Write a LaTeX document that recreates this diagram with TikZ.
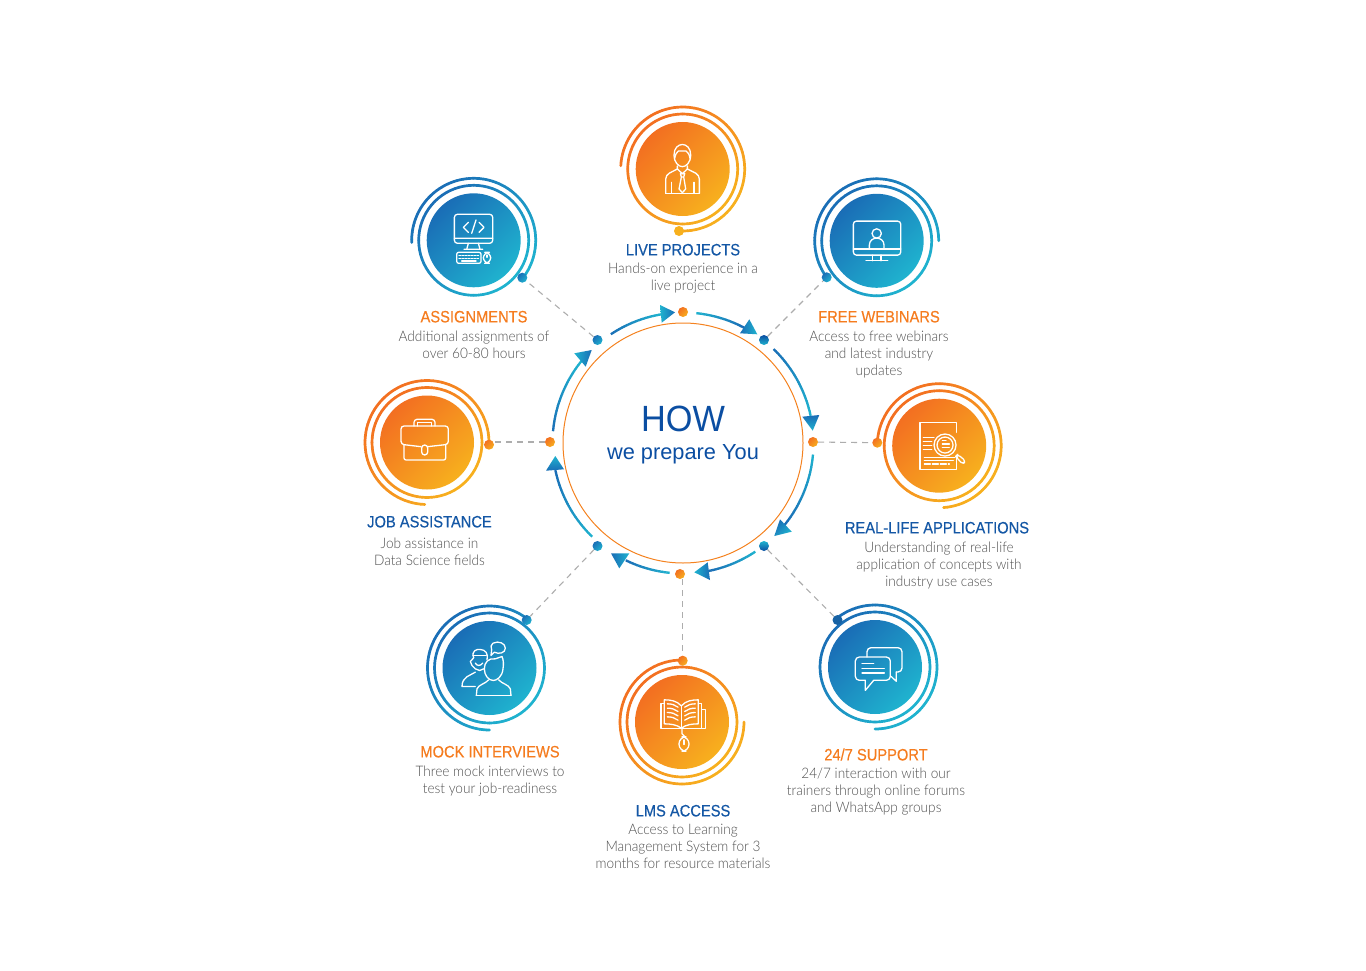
\documentclass[tikz,border=0pt]{standalone}
\usepackage{fontspec}
\setmainfont{Liberation Sans}
\newfontfamily\headfont{Liberation Sans}[FakeStretch=0.89,FakeBold=0.4]
\newfontfamily\hubfont{Liberation Sans}[FakeStretch=0.94]
\newfontfamily\bodyfont{Lato}[UprightFont=* Light,FakeStretch=0.94]
\usetikzlibrary{positioning}

\definecolor{orangeA}{HTML}{F36F21}
\definecolor{orangeB}{HTML}{F7B01E}
\definecolor{blueA}{HTML}{1A6DB6}
\definecolor{blueB}{HTML}{1FB3CF}
\definecolor{headblue}{HTML}{1457A5}
\definecolor{headorange}{HTML}{F57C1F}
\definecolor{bodygray}{HTML}{505050}
\definecolor{hubblue}{HTML}{0B4EA2}

\tikzset{
  orangedisk/.style={circle,minimum size=94pt,inner sep=0pt,top color=orangeA,bottom color=orangeB,shading angle=45},
  bluedisk/.style={circle,minimum size=94pt,inner sep=0pt,top color=blueA,bottom color=blueB,shading angle=45},
  orangedot/.style={circle,minimum size=10pt,inner sep=0pt,top color=orangeA,bottom color=orangeB,shading angle=45},
  bluedot/.style={circle,minimum size=10pt,inner sep=0pt,top color=blueA,bottom color=blueB,shading angle=45},
  hubdot/.style={circle,minimum size=10pt,inner sep=0pt,left color=blueB,right color=hubblue},
  headtext/.style={font=\headfont\fontsize{16.5}{18}\selectfont,inner sep=0pt,text height=12pt,text depth=0pt},
  bodytext/.style={font=\bodyfont\fontsize{14.5}{17}\selectfont,text=bodygray,align=center,inner sep=0pt},
  ringline/.style={line width=2.7pt,line cap=round},
  flowline/.style={line width=2.3pt},
  dashline/.style={draw=black!32,line width=1.1pt,dash pattern=on 6pt off 5pt},
  iconline/.style={draw=white,line width=1.3pt,line cap=round,line join=round},
}

% ring part whose colour follows the diagonal of the picture
\newcommand{\ringarc}[6]{%
  \foreach \k in {1,...,72}{
    \pgfmathsetmacro{\angA}{#3+(#4-#3)/72*(\k-1)}
    \pgfmathsetmacro{\angB}{#3+(#4-#3)/72*\k}
    \pgfmathtruncatemacro{\mixval}{50+50*cos((\angA+\angB)/2-135)}
    \draw[ringline,draw={#5!\mixval!#6}] (#1.center) ++(\angA:#2) arc[start angle=\angA,end angle=\angB,radius=#2];
  }}
% arrow around the hub, colour runs from start to end
\newcommand{\flowarc}[4]{%
  \foreach \k in {1,...,30}{
    \pgfmathsetmacro{\angA}{#1+(#2-#1)/30*(\k-1.2)}
    \pgfmathsetmacro{\angB}{#1+(#2-#1)/30*\k}
    \pgfmathtruncatemacro{\mixval}{100-100*\k/30}
    \draw[flowline,draw={#3!\mixval!#4}] (hub.center) ++(\angA:130.5) arc[start angle=\angA,end angle=\angB,radius=130.5];
  }}

\begin{document}
\begin{tikzpicture}[x=1pt,y=1pt]
  \useasboundingbox (0,0) rectangle (1366,-971);

  % hub
  \node[circle,draw=orangeA!70!orangeB,line width=1pt,minimum size=240pt,inner sep=0pt] (hub) at (683,-443) {};
  \node[text=hubblue,anchor=base,inner sep=0pt,font=\hubfont\fontsize{36.5}{40}\selectfont] (hubTitle) at (683,-431) {HOW};
  \node[text=hubblue,anchor=base,inner sep=0pt,font=\fontsize{21.8}{26}\selectfont] (hubText) at (683,-459.3) {we prepare You};

  % disks
  \node[orangedisk] (live) at (682.7,-169) {};
  \node[bluedisk] (assign) at (473.7,-240.3) {};
  \node[bluedisk] (webinar) at (876.7,-240.8) {};
  \node[orangedisk] (reallife) at (939.2,-445.7) {};
  \node[bluedisk] (support) at (875,-667) {};
  \node[orangedisk] (lms) at (682,-722) {};
  \node[bluedisk] (mock) at (489.5,-668) {};
  \node[orangedisk] (jobs) at (427,-442.5) {};

  % rings
  \ringarc{live}{55}{0}{360}{orangeA}{orangeB}
  \ringarc{live}{62}{177}{-93}{orangeA}{orangeB}
  \ringarc{assign}{55}{0}{360}{blueA}{blueB}
  \ringarc{assign}{62}{182}{-37.6}{blueA}{blueB}
  \ringarc{webinar}{55}{0}{360}{blueA}{blueB}
  \ringarc{webinar}{62}{0}{216}{blueA}{blueB}
  \ringarc{reallife}{55}{0}{360}{orangeA}{orangeB}
  \ringarc{reallife}{62}{177}{-86}{orangeA}{orangeB}
  \ringarc{support}{55}{0}{360}{blueA}{blueB}
  \ringarc{support}{62}{129}{-90}{blueA}{blueB}
  \ringarc{lms}{55}{0}{360}{orangeA}{orangeB}
  \ringarc{lms}{62}{90}{360}{orangeA}{orangeB}
  \ringarc{mock}{55}{0}{360}{blueA}{blueB}
  \ringarc{mock}{62}{52}{270}{blueA}{blueB}
  \ringarc{jobs}{55}{0}{360}{orangeA}{orangeB}
  \ringarc{jobs}{62}{-2.3}{268}{orangeA}{orangeB}

  % dots
  \node[orangedot] (hubTop) at (683,-312) {};
  \node[orangedot] (hubLeft) at (550,-442) {};
  \node[orangedot] (hubRight) at (813,-442) {};
  \node[orangedot] (hubBottom) at (680,-574) {};
  \node[bluedot] (hubNW) at (597.5,-340) {};
  \node[hubdot,shading angle=180] (hubNE) at (764,-340) {};
  \node[bluedot] (hubSW) at (597.5,-546) {};
  \node[hubdot,shading angle=0] (hubSE) at (764,-546) {};
  \node[circle,minimum size=10pt,inner sep=0pt,fill=orangeB] (liveDot) at (679,-231) {};
  \node[bluedot] (assignDot) at (522.3,-277.7) {};
  \node[bluedot] (webinarDot) at (826.7,-277.3) {};
  \node[orangedot] (reallifeDot) at (877.3,-442.7) {};
  \node[circle,minimum size=10pt,inner sep=0pt,fill=blueA!90!black] (supportDot) at (837.5,-620) {};
  \node[orangedot] (lmsDot) at (682.7,-660.7) {};
  \node[bluedot] (mockDot) at (526.7,-620) {};
  \node[orangedot] (jobsDot) at (489,-444.7) {};

  % dashed links
  \draw[dashline] (hubNW) -- (assignDot);
  \draw[dashline] (hubNE) -- (webinarDot);
  \draw[dashline] (hubRight) -- (reallifeDot);
  \draw[dashline] (hubSE) -- (supportDot);
  \draw[dashline] (lmsDot |- hubBottom.south) -- (lmsDot);
  \draw[dashline] (hubSW) -- (mockDot);
  \draw[dashline] (hubLeft) -- (hubLeft -| jobsDot.east);

  % arrows round the hub
  \flowarc{174.6}{141}{blueA}{blueB}
  \shade[left color=blueB,right color=blueA] (574.3,-353.3) -- (591.7,-350) -- (585.7,-366.7) -- cycle;
  \flowarc{123.4}{99}{blueA}{blueB}
  \shade[left color=blueB,right color=blueA] (660,-305) -- (675,-312.3) -- (661.7,-322.7) -- cycle;
  \flowarc{84}{62}{blueB}{blueA}
  \shade[left color=blueA,right color=blueB] (740,-333.3) -- (749.3,-319.3) -- (757.3,-334.3) -- cycle;
  \flowarc{45.8}{12}{blueA}{blueB}
  \shade[top color=blueA,bottom color=blueB] (802.3,-416.7) -- (819.3,-415) -- (812.7,-430.7) -- cycle;
  \flowarc{-5.3}{-39}{blueB}{blueA}
  \shade[left color=blueA,right color=blueB,shading angle=45] (780,-519.3) -- (791.7,-531.7) -- (774.3,-536) -- cycle;
  \flowarc{-56.5}{-79}{blueB}{blueA}
  \shade[left color=blueB,right color=blueA] (707.7,-562.3) -- (710,-580) -- (694.3,-572.3) -- cycle;
  \flowarc{-96}{-116}{blueB}{blueA}
  \shade[left color=blueA,right color=blueB] (629.3,-553.3) -- (619.3,-568.3) -- (611,-553.3) -- cycle;
  \flowarc{225.7}{192}{blueB}{blueA}
  \shade[top color=blueB,bottom color=blueA] (546,-470.7) -- (555.3,-456) -- (564,-469.3) -- cycle;

  % labels
  \node[headtext,text=headblue] (liveHead) at (683,-249.4) {LIVE PROJECTS};
  \node[bodytext,below=5.6pt of liveHead] (liveText) {\strut Hands-on experience in a\\ live project};
  \node[headtext,text=headorange] (assignHead) at (474,-316.4) {ASSIGNMENTS};
  \node[bodytext,below=6.6pt of assignHead] (assignText) {\strut Additional assignments of\\ over 60-80 hours};
  \node[headtext,text=headorange] (webinarHead) at (879,-316.4) {FREE WEBINARS};
  \node[bodytext,below=6.6pt of webinarHead] (webinarText) {\strut Access to free webinars\\ and latest industry\\ updates};
  \node[headtext,text=headblue] (reallifeHead) at (937,-527.4) {REAL-LIFE APPLICATIONS};
  \node[bodytext,below=6.6pt of reallifeHead,xshift=2pt] (reallifeText) {\strut Understanding of real-life\\ application of concepts with\\ industry use cases};
  \node[headtext,text=headorange] (supportHead) at (876,-754.4) {24/7 SUPPORT};
  \node[bodytext,below=5.6pt of supportHead] (supportText) {\strut 24/7 interaction with our\\ trainers through online forums\\ and WhatsApp groups};
  \node[headtext,text=headblue] (lmsHead) at (683,-810.4) {LMS ACCESS};
  \node[bodytext,below=5.6pt of lmsHead] (lmsText) {\strut Access to Learning\\ Management System for 3\\ months for resource materials};
  \node[headtext,text=headorange] (mockHead) at (490,-751.4) {MOCK INTERVIEWS};
  \node[bodytext,below=6.6pt of mockHead] (mockText) {\strut Three mock interviews to\\ test your job-readiness};
  \node[headtext,text=headblue] (jobsHead) at (429.5,-521.4) {JOB ASSISTANCE};
  \node[bodytext,below=8.6pt of jobsHead] (jobsText) {\strut Job assistance in\\ Data Science fields};

  % icons, in the coordinates of a crop three times enlarged
  \begin{scope}[iconline,x=0.3333pt,y=-0.3333pt,shift={(live.center)},shift={(-248,-222)}]
    \draw (222,180) .. controls (222,138) and (272,138) .. (272,180) .. controls (272,203) and (258,215) .. (247,215) .. controls (236,215) and (222,203) .. (222,180) -- cycle;
    \draw (224,190) .. controls (226,178) and (230,172) .. (235,168) -- (258,168) .. controls (264,172) and (268,178) .. (270,190);
    \draw[rounded corners=4pt] (197,295) -- (197,240) -- (232,222);
    \draw[rounded corners=4pt] (298,295) -- (298,240) -- (262,222);
    \draw (197,295) -- (298,295) (215,262) -- (215,295) (282,262) -- (282,295);
    \draw (232,213) -- (232,222) -- (247,236) -- (262,222) -- (262,213);
    \draw (241,236) -- (254,236) -- (251,246) -- (244,246) -- cycle;
    \draw (244,246) -- (237,282) -- (247,293) -- (257,282) -- (251,246);
  \end{scope}
  \begin{scope}[iconline,x=0.3333pt,y=-0.3333pt,shift={(assign.center)},shift={(-221,-211)}]
    \draw[rounded corners=3pt] (163,133) rectangle (278,220);
    \draw (163,205) -- (278,205) (205,220) -- (200,238) (235,220) -- (240,238) (192,238) -- (248,238);
    \draw (205,157) -- (190,172) -- (205,187) (237,157) -- (252,172) -- (237,187) (228,150) -- (215,190);
    \draw[rounded corners=2pt] (170,247) rectangle (243,280);
    \draw[dash pattern=on 1.5pt off 1.5pt] (177,257) -- (237,257) (177,265) -- (237,265);
    \draw (185,273) -- (228,273);
    \draw[rounded corners=6pt] (250,247) rectangle (272,280);
    \draw (261,255) -- (261,262);
  \end{scope}
  \begin{scope}[iconline,x=0.3333pt,y=-0.3333pt,shift={(webinar.center)},shift={(-230,-212)}]
    \draw[rounded corners=3pt] (160,153) rectangle (302,255);
    \draw (160,237) -- (302,237);
    \draw (230,190) circle[radius=14];
    \draw (208,237) -- (208,225) .. controls (208,197) and (252,197) .. (252,225) -- (252,237);
    \draw (218,255) -- (218,272) (243,255) -- (243,272) (198,272) -- (263,272);
  \end{scope}
  \begin{scope}[iconline,x=0.3333pt,y=-0.3333pt,shift={(reallife.center)},shift={(-237.5,-212)}]
    \draw (290,172) -- (290,143) -- (180,143) -- (180,283) -- (290,283) -- (290,245);
    \draw (255,210) circle[radius=33] (255,210) circle[radius=24];
    \draw[rounded corners=3pt] (287,244) -- (293,238) -- (317,258) -- (308,268) -- cycle;
    \draw (190,187) -- (222,187) (190,200) -- (215,200) (190,212) -- (215,212) (190,223) -- (215,223);
    \draw (193,247) -- (285,247) (193,257) -- (280,257);
    \draw[dash pattern=on 6pt off 2pt] (193,267) -- (268,267);
    \draw (247,197) -- (258,197) (247,207) -- (268,207) (247,217) -- (268,217);
  \end{scope}
  \begin{scope}[iconline,x=0.3333pt,y=-0.3333pt,shift={(support.center)},shift={(-194,-200)}]
    \draw[rounded corners=4pt] (170,170) -- (170,142) -- (275,142) -- (275,215) -- (258,215);
    \draw (258,215) -- (258,243) -- (242,228);
    \draw[rounded corners=4pt] (165,240) -- (135,240) -- (135,170) -- (240,170) -- (240,240) -- (190,240);
    \draw (165,240) -- (165,270) -- (190,240);
    \draw (155,190) -- (190,190) (155,205) -- (222,205) (155,218) -- (222,218);
  \end{scope}
  \begin{scope}[iconline,x=0.3333pt,y=-0.3333pt,shift={(lms.center)},shift={(-216,-216.5)}]
    \draw (214,168) .. controls (200,152) and (180,150) .. (163,150) -- (163,222) .. controls (180,222) and (200,224) .. (214,235);
    \draw (214,168) .. controls (228,152) and (248,150) .. (265,150) -- (265,222) .. controls (248,222) and (228,224) .. (214,235);
    \draw (214,168) -- (214,235);
    \draw (163,160) -- (153,160) -- (153,236) -- (275,236) -- (275,160) -- (265,160);
    \draw (275,180) -- (286,180) -- (286,236) -- (275,236);
    \foreach \yy in {170,183,196,209}{
      \draw (172,\yy-8) .. controls (185,\yy-8) and (195,\yy-5) .. (204,\yy+2);
      \draw (256,\yy-8) .. controls (243,\yy-8) and (233,\yy-5) .. (224,\yy+2);
    }
    \draw (216,236) -- (216,252) -- (224,260);
    \draw[rounded corners=7pt] (207,261) rectangle (237,304);
    \draw (222,270) -- (222,284);
  \end{scope}
  \begin{scope}[iconline,x=0.3333pt,y=-0.3333pt,shift={(mock.center)},shift={(-207.5,-202.5)}]
    \draw (192,205) .. controls (192,185) and (205,172) .. (225,175) -- (245,168) .. controls (250,180) and (250,190) .. (248,205) .. controls (246,228) and (230,240) .. (219,240) .. controls (205,240) and (192,225) .. (192,205) -- cycle;
    \draw (168,285) -- (170,265) .. controls (175,252) and (195,250) .. (205,238);
    \draw (272,285) -- (270,265) .. controls (265,252) and (245,250) .. (235,238);
    \draw (168,285) -- (272,285);
    \draw (160,172) .. controls (152,150) and (170,145) .. (180,147) .. controls (195,147) and (205,160) .. (200,178);
    \draw (158,165) -- (198,165);
    \draw (160,172) -- (150,183) -- (155,195) -- (165,205) -- (178,210) -- (190,205);
    \draw (165,188) .. controls (170,197) and (180,197) .. (187,188);
    \draw (165,215) .. controls (150,225) and (125,228) .. (125,258) -- (165,258);
    \draw (218,128) .. controls (235,120) and (255,128) .. (255,143) .. controls (255,158) and (235,162) .. (222,155) -- (212,165) -- (214,148) .. controls (210,140) and (212,132) .. (218,128) -- cycle;
  \end{scope}
  \begin{scope}[iconline,x=0.3333pt,y=-0.3333pt,shift={(jobs.center)},shift={(-216,-202.5)}]
    \draw[rounded corners=3pt] (198,215) -- (138,208) -- (138,153) -- (280,153) -- (280,208) -- (218,215);
    \draw[rounded corners=2pt] (147,210) -- (147,255) -- (272,255) -- (272,210);
    \draw[rounded corners=3pt] (200,210) rectangle (218,240);
    \draw[rounded corners=3pt] (177,153) -- (177,133) -- (240,133) -- (240,153);
    \draw (188,153) -- (188,143) -- (230,143) -- (230,153);
  \end{scope}
\end{tikzpicture}
\end{document}
